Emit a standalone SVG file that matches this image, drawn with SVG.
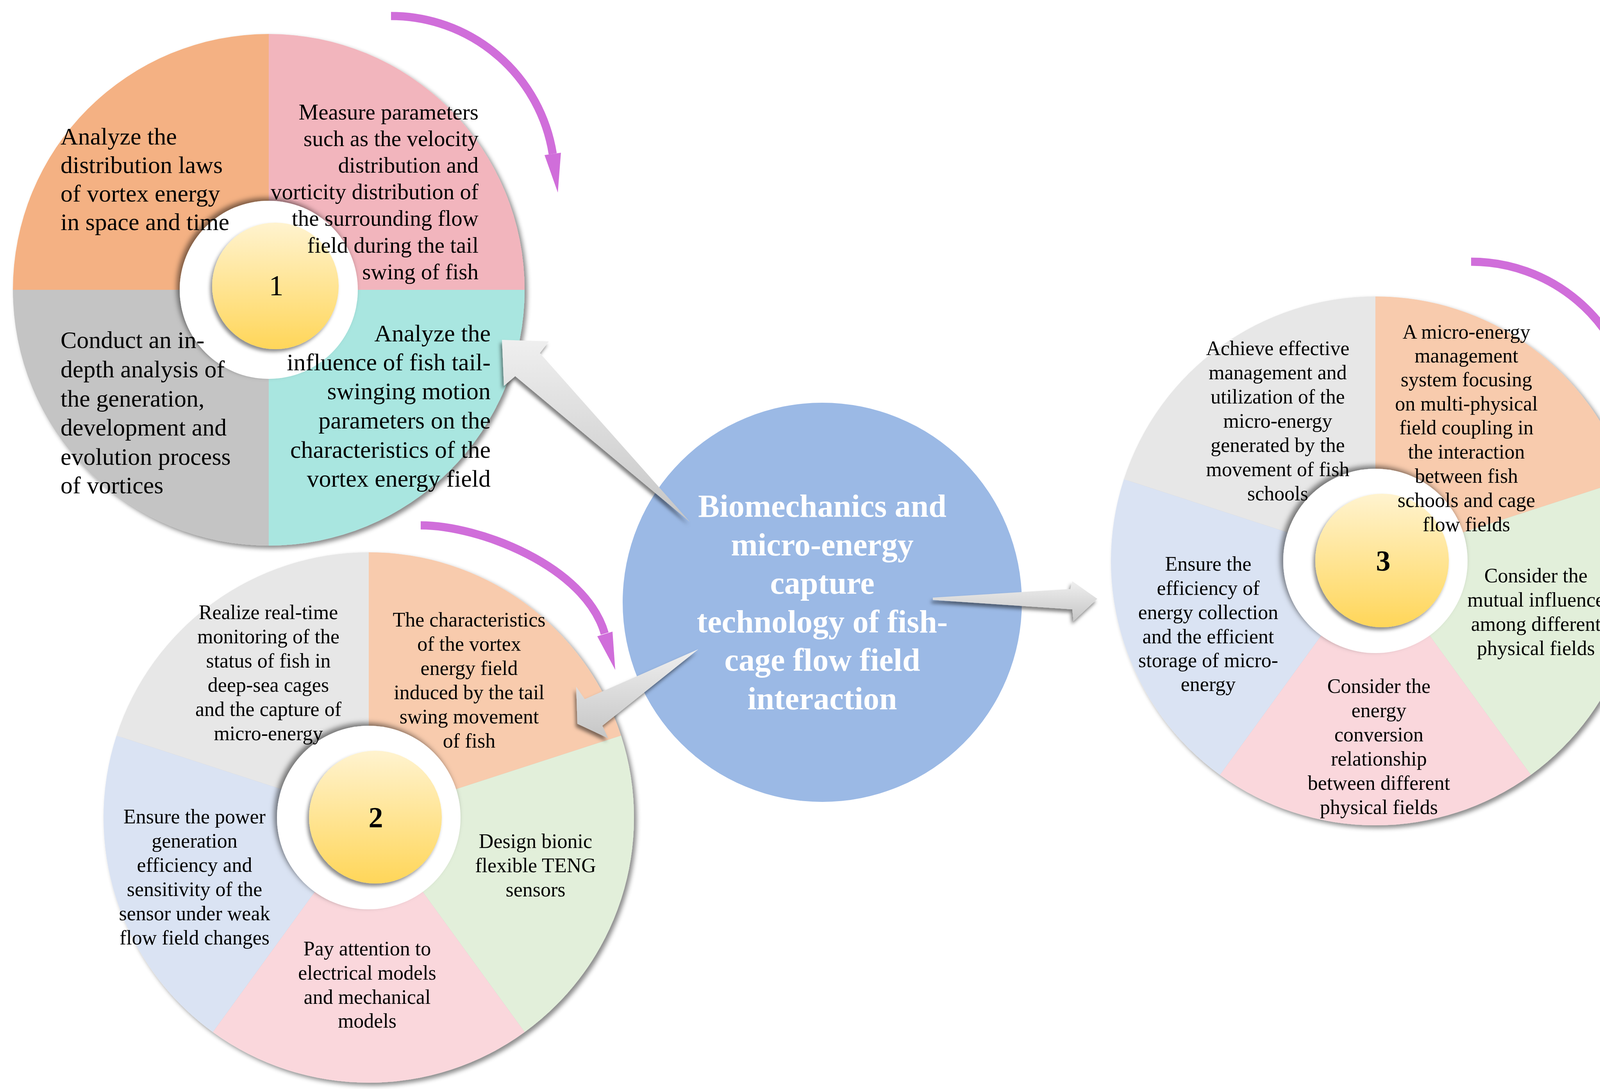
<svg xmlns="http://www.w3.org/2000/svg" width="4271" height="2788" viewBox="0 0 4271 2788">
<defs>
<style>
text{font-family:"Liberation Serif","Times New Roman",serif;fill:#000}
.t1{font-size:62px}
.t1s{font-size:57px}
.t2{font-size:52px;text-anchor:middle}
.st{text-anchor:start}
.en{text-anchor:end}
.ctr{font-size:82px;font-weight:bold;fill:#fff;text-anchor:middle}
.num{font-size:74px;text-anchor:middle}
.rot{fill:none;stroke:#D06EDA;stroke-width:21}
.roth{fill:#D06EDA}
.ring{fill:#fff;filter:url(#ringSh)}
.yel{fill:url(#yg);filter:url(#yelSh)}
.arr{fill:url(#ag);filter:url(#arrSh)}
</style>
<linearGradient id="yg" x1="0" y1="0" x2="0" y2="1">
<stop offset="0" stop-color="#FFF3CF"/>
<stop offset="1" stop-color="#FFD659"/>
</linearGradient>
<linearGradient id="ag" x1="0" y1="0" x2="0" y2="1">
<stop offset="0" stop-color="#EFEFEF"/>
<stop offset="1" stop-color="#C6C6C6"/>
</linearGradient>
<filter id="pieSh" x="-10%" y="-10%" width="125%" height="125%">
<feDropShadow dx="7" dy="7" stdDeviation="6" flood-color="#000" flood-opacity="0.45"/>
</filter>
<filter id="ringSh" x="-20%" y="-20%" width="140%" height="140%">
<feDropShadow dx="-7" dy="-7" stdDeviation="7" flood-color="#000" flood-opacity="0.5"/>
</filter>
<filter id="yelSh" x="-20%" y="-20%" width="140%" height="140%">
<feDropShadow dx="-5" dy="7" stdDeviation="5" flood-color="#000" flood-opacity="0.45"/>
</filter>
<filter id="arrSh" x="-20%" y="-20%" width="140%" height="140%">
<feDropShadow dx="-4" dy="8" stdDeviation="5" flood-color="#000" flood-opacity="0.5"/>
</filter>
</defs>
<rect width="4271" height="2788" fill="#fff"/>

<g id="node-1">
<g filter="url(#pieSh)">
<path d="M688 742 L33 742 A655 655 0 0 1 688 87 Z" fill="#F4B183"/>
<path d="M688 742 L688 87 A655 655 0 0 1 1343 742 Z" fill="#F2B5BD"/>
<path d="M688 742 L1343 742 A655 655 0 0 1 688 1397 Z" fill="#A9E6E0"/>
<path d="M688 742 L688 1397 A655 655 0 0 1 33 742 Z" fill="#C4C4C4"/>
</g>
<circle class="ring" cx="688" cy="742" r="228"/>
<circle class="yel" cx="705" cy="732" r="162"/>
<text class="num" x="707" y="756">1</text>
<text class="t1 st"><tspan x="155" y="370">Analyze the</tspan><tspan x="155" y="443">distribution laws</tspan><tspan x="155" y="516">of vortex energy</tspan><tspan x="155" y="589">in space and time</tspan></text>
<text class="t1s en"><tspan x="1225" y="306">Measure parameters</tspan><tspan x="1225" y="374">such as the velocity</tspan><tspan x="1225" y="442">distribution and</tspan><tspan x="1225" y="510">vorticity distribution of</tspan><tspan x="1225" y="578">the surrounding flow</tspan><tspan x="1225" y="647">field during the tail</tspan><tspan x="1225" y="715">swing of fish</tspan></text>
<text class="t1 en"><tspan x="1256" y="874">Analyze the</tspan><tspan x="1256" y="948">influence of fish tail-</tspan><tspan x="1256" y="1022">swinging motion</tspan><tspan x="1256" y="1097">parameters on the</tspan><tspan x="1256" y="1172">characteristics of the</tspan><tspan x="1256" y="1246">vortex energy field</tspan></text>
<text class="t1 st"><tspan x="155" y="891">Conduct an in-</tspan><tspan x="155" y="966">depth analysis of</tspan><tspan x="155" y="1041">the generation,</tspan><tspan x="155" y="1115">development and</tspan><tspan x="155" y="1190">evolution process</tspan><tspan x="155" y="1263">of vortices</tspan></text>
</g>

<g id="node-2">
<g filter="url(#pieSh)">
<path d="M944 2093 L944 1414 A679 679 0 0 1 1589.8 1883.2 Z" fill="#F8CBAD"/>
<path d="M944 2093 L1589.8 1883.2 A679 679 0 0 1 1343.1 2642.3 Z" fill="#E2EFDA"/>
<path d="M944 2093 L1343.1 2642.3 A679 679 0 0 1 544.9 2642.3 Z" fill="#FAD7DC"/>
<path d="M944 2093 L544.9 2642.3 A679 679 0 0 1 298.2 1883.2 Z" fill="#DAE3F3"/>
<path d="M944 2093 L298.2 1883.2 A679 679 0 0 1 944 1414 Z" fill="#E7E7E7"/>
</g>
<circle class="ring" cx="944" cy="2093" r="235"/>
<circle class="yel" cx="961" cy="2092" r="170"/>
<text class="num" x="962" y="2118" font-weight="bold">2</text>
<text class="t2"><tspan x="687" y="1585">Realize real-time</tspan><tspan x="687" y="1647">monitoring of the</tspan><tspan x="687" y="1709">status of fish in</tspan><tspan x="687" y="1771">deep-sea cages</tspan><tspan x="687" y="1833">and the capture of</tspan><tspan x="687" y="1895">micro-energy</tspan></text>
<text class="t2"><tspan x="1201" y="1604">The characteristics</tspan><tspan x="1201" y="1666">of the vortex</tspan><tspan x="1201" y="1728">energy field</tspan><tspan x="1201" y="1790">induced by the tail</tspan><tspan x="1201" y="1852">swing movement</tspan><tspan x="1201" y="1914">of fish</tspan></text>
<text class="t2"><tspan x="1371" y="2171">Design bionic</tspan><tspan x="1371" y="2233">flexible TENG</tspan><tspan x="1371" y="2295">sensors</tspan></text>
<text class="t2"><tspan x="940" y="2446">Pay attention to</tspan><tspan x="940" y="2508">electrical models</tspan><tspan x="940" y="2570">and mechanical</tspan><tspan x="940" y="2631">models</tspan></text>
<text class="t2"><tspan x="498" y="2108">Ensure the power</tspan><tspan x="498" y="2170">generation</tspan><tspan x="498" y="2232">efficiency and</tspan><tspan x="498" y="2294">sensitivity of the</tspan><tspan x="498" y="2356">sensor under weak</tspan><tspan x="498" y="2418">flow field changes</tspan></text>
</g>

<g id="node-3">
<g filter="url(#pieSh)">
<path d="M3521 1436 L3521 759 A677 677 0 0 1 4164.9 1226.8 Z" fill="#F8CBAD"/>
<path d="M3521 1436 L4164.9 1226.8 A677 677 0 0 1 3918.9 1983.7 Z" fill="#E2EFDA"/>
<path d="M3521 1436 L3918.9 1983.7 A677 677 0 0 1 3123.1 1983.7 Z" fill="#FAD7DC"/>
<path d="M3521 1436 L3123.1 1983.7 A677 677 0 0 1 2877.1 1226.8 Z" fill="#DAE3F3"/>
<path d="M3521 1436 L2877.1 1226.8 A677 677 0 0 1 3521 759 Z" fill="#E7E7E7"/>
</g>
<circle class="ring" cx="3521" cy="1436" r="236"/>
<circle class="yel" cx="3538" cy="1435" r="171"/>
<text class="num" x="3541" y="1461" font-weight="bold">3</text>
<text class="t2"><tspan x="3271" y="909">Achieve effective</tspan><tspan x="3271" y="971">management and</tspan><tspan x="3271" y="1033">utilization of the</tspan><tspan x="3271" y="1095">micro-energy</tspan><tspan x="3271" y="1157">generated by the</tspan><tspan x="3271" y="1219">movement of fish</tspan><tspan x="3271" y="1281">schools</tspan></text>
<text class="t2"><tspan x="3754" y="867">A micro-energy</tspan><tspan x="3754" y="928">management</tspan><tspan x="3754" y="989">system focusing</tspan><tspan x="3754" y="1051">on multi-physical</tspan><tspan x="3754" y="1112">field coupling in</tspan><tspan x="3754" y="1174">the interaction</tspan><tspan x="3754" y="1236">between fish</tspan><tspan x="3754" y="1298">schools and cage</tspan><tspan x="3754" y="1360">flow fields</tspan></text>
<text class="t2"><tspan x="3932" y="1491">Consider the</tspan><tspan x="3932" y="1553">mutual influence</tspan><tspan x="3932" y="1615">among different</tspan><tspan x="3932" y="1677">physical fields</tspan></text>
<text class="t2"><tspan x="3530" y="1774">Consider the</tspan><tspan x="3530" y="1836">energy</tspan><tspan x="3530" y="1898">conversion</tspan><tspan x="3530" y="1960">relationship</tspan><tspan x="3530" y="2022">between different</tspan><tspan x="3530" y="2084">physical fields</tspan></text>
<text class="t2"><tspan x="3093" y="1461">Ensure the</tspan><tspan x="3093" y="1523">efficiency of</tspan><tspan x="3093" y="1585">energy collection</tspan><tspan x="3093" y="1647">and the efficient</tspan><tspan x="3093" y="1708">storage of micro-</tspan><tspan x="3093" y="1769">energy</tspan></text>
</g>

<g id="node-center">
<circle cx="2105" cy="1542" r="511" fill="#9BB9E5"/>
<text class="ctr"><tspan x="2105" y="1323">Biomechanics and</tspan><tspan x="2105" y="1422">micro-energy</tspan><tspan x="2105" y="1520">capture</tspan><tspan x="2105" y="1619">technology of fish-</tspan><tspan x="2105" y="1717">cage flow field</tspan><tspan x="2105" y="1816">interaction</tspan></text>
</g>

<g id="rotation-arrows">
<path class="rot" d="M1001 41 A419 419 0 0 1 1415 394"/>
<polygon class="roth" points="1394,397 1436,391 1428,493"/>
<path class="rot" d="M1077 1345 C1227 1345 1498 1449 1548 1622" stroke="#DE7BE8"/>
<polygon class="roth" points="1529,1629 1568,1617 1575,1715" fill="#DE7BE8"/>
<path class="rot" d="M3766 670 A421 421 0 0 1 4182 1025"/>
<polygon class="roth" points="4161,1028 4203,1022 4195,1124"/>
</g>

<g id="connectors">
<polygon class="arr" points="1766,1336 1382,904 1405,874 1285,870 1290,988 1319,963"/>
<polygon class="arr" points="1788,1662 1497,1790 1475,1758 1478,1853 1557,1890 1542,1858"/>
<polygon class="arr" points="2388,1530 2740,1508 2745,1488 2809,1533 2748,1590 2745,1560 2388,1536"/>
</g>
</svg>
